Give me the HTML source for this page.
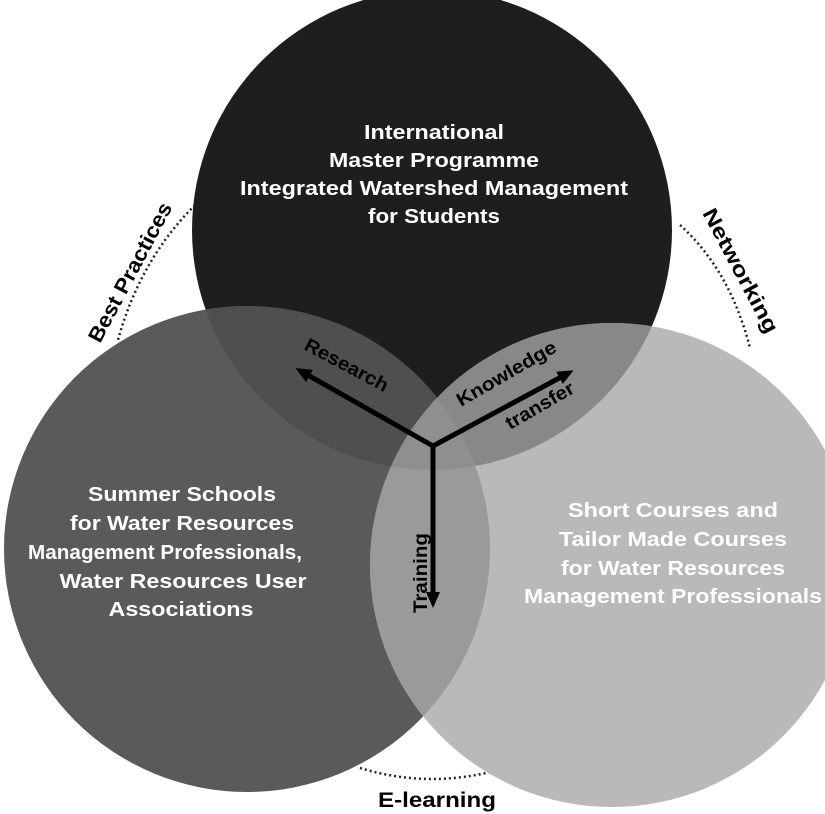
<!DOCTYPE html>
<html><head><meta charset="utf-8"><style>
html,body{margin:0;padding:0;background:#fff;}
svg{display:block;}
text{font-family:"Liberation Sans",Arial,sans-serif;font-weight:bold;}
</style></head><body>
<svg width="825" height="814" viewBox="0 0 825 814" xmlns="http://www.w3.org/2000/svg">
<defs>
<clipPath id="cT"><circle cx="432" cy="230" r="240"/></clipPath>
<clipPath id="cL"><circle cx="247" cy="549" r="243"/></clipPath>
<marker id="ah" markerWidth="16" markerHeight="16" refX="4" refY="8" orient="auto" markerUnits="userSpaceOnUse" viewBox="0 0 16 16">
<path d="M0,1 L16,8 L0,15 z" fill="#000"/></marker>
</defs>
<rect width="825" height="814" fill="#fff"/>
<path d="M195,205 Q140,260 118,340" fill="none" stroke="#222" stroke-width="2.5" stroke-dasharray="2,3"/>
<path d="M680,225 Q730,270 750,348" fill="none" stroke="#222" stroke-width="2.5" stroke-dasharray="2,3"/>
<path d="M360,768 Q432,790 505,768" fill="none" stroke="#222" stroke-width="2.5" stroke-dasharray="2,3"/>
<circle cx="432" cy="230" r="240" fill="#1e1e1e"/>
<circle cx="247" cy="549" r="243" fill="#5a5a5a"/>
<circle cx="612" cy="565" r="242" fill="#b9b9b9"/>
<g clip-path="url(#cT)"><circle cx="247" cy="549" r="243" fill="#4f4f4f"/><circle cx="612" cy="565" r="242" fill="#888888"/></g>
<g clip-path="url(#cL)"><circle cx="612" cy="565" r="242" fill="#9a9a9a"/></g>
<g clip-path="url(#cT)"><g clip-path="url(#cL)"><circle cx="612" cy="565" r="242" fill="#8f8f8f"/></g></g>
<g stroke="#000" stroke-width="5" fill="none">
<line x1="433" y1="446" x2="306" y2="374" marker-end="url(#ah)"/>
<line x1="433" y1="446" x2="563" y2="376" marker-end="url(#ah)"/>
<line x1="433" y1="444" x2="433" y2="596" marker-end="url(#ah)"/>
</g>
<g fill="#000" font-size="19">
<text transform="translate(303,349) rotate(28)" textLength="92" lengthAdjust="spacingAndGlyphs">Research</text>
<text transform="translate(461,407) rotate(-30)" textLength="112" lengthAdjust="spacingAndGlyphs">Knowledge</text>
<text transform="translate(510,430) rotate(-30)" textLength="76" lengthAdjust="spacingAndGlyphs">transfer</text>
<text transform="translate(427,613) rotate(-90)" textLength="80" lengthAdjust="spacingAndGlyphs">Training</text>
<text transform="translate(100,344) rotate(-62)" font-size="21" textLength="155" lengthAdjust="spacingAndGlyphs">Best Practices</text>
<text transform="translate(702,213) rotate(62)" font-size="21" textLength="138" lengthAdjust="spacingAndGlyphs">Networking</text>
<text x="437" y="807" text-anchor="middle" font-size="21" textLength="118" lengthAdjust="spacingAndGlyphs">E-learning</text>
</g>
<g fill="#fff" font-size="20" text-anchor="middle">
<text x="434" y="139" textLength="140" lengthAdjust="spacingAndGlyphs">International</text>
<text x="434" y="167" textLength="210" lengthAdjust="spacingAndGlyphs">Master Programme</text>
<text x="434" y="195" textLength="388" lengthAdjust="spacingAndGlyphs">Integrated Watershed Management</text>
<text x="434" y="223" textLength="132" lengthAdjust="spacingAndGlyphs">for Students</text>
<text x="182" y="501" textLength="188" lengthAdjust="spacingAndGlyphs">Summer Schools</text>
<text x="182" y="530" textLength="224" lengthAdjust="spacingAndGlyphs">for Water Resources</text>
<text x="165" y="559" textLength="274" lengthAdjust="spacingAndGlyphs">Management Professionals,</text>
<text x="183" y="588" textLength="247" lengthAdjust="spacingAndGlyphs">Water Resources User</text>
<text x="181" y="616" textLength="145" lengthAdjust="spacingAndGlyphs">Associations</text>
<text x="673" y="517" textLength="210" lengthAdjust="spacingAndGlyphs">Short Courses and</text>
<text x="673" y="546" textLength="228" lengthAdjust="spacingAndGlyphs">Tailor Made Courses</text>
<text x="673" y="575" textLength="224" lengthAdjust="spacingAndGlyphs">for Water Resources</text>
<text x="673" y="603" textLength="298" lengthAdjust="spacingAndGlyphs">Management Professionals</text>
</g>
</svg>
</body></html>
